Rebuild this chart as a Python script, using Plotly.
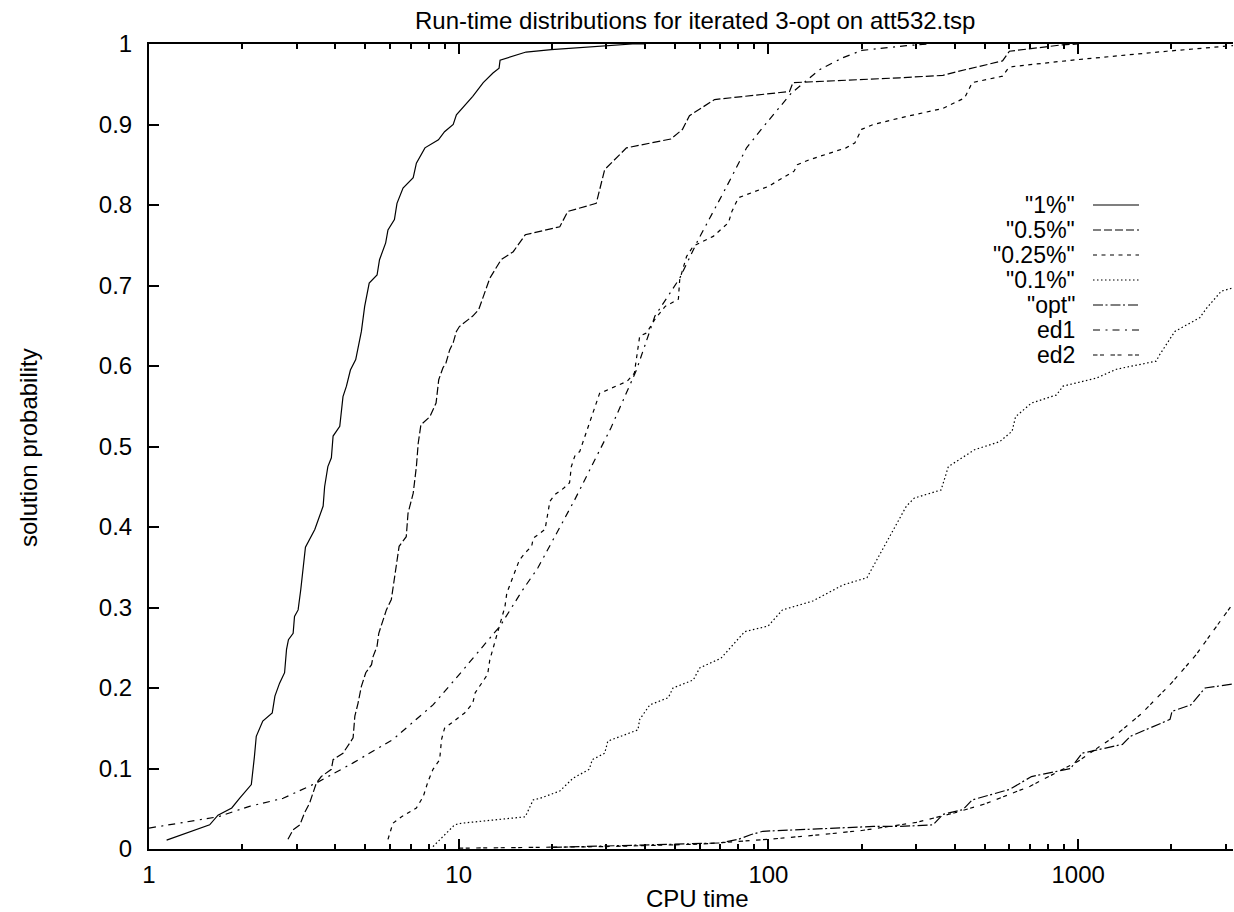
import plotly.graph_objects as go

# ---------------- data ----------------
p1_x = [1.14, 1.57, 1.67, 1.85, 1.96, 2.14, 2.19, 2.22, 2.33, 2.50, 2.55, 2.64, 2.74, 2.78, 2.82,
        2.92, 2.95, 3.03, 3.09, 3.14, 3.20, 3.43, 3.65, 3.69, 3.78, 3.88, 3.93, 4.13, 4.23, 4.34,
        4.47, 4.65, 4.85, 4.97, 5.14, 5.45, 5.55, 5.81, 5.91, 6.2, 6.32, 6.61, 7.13, 7.3, 7.78,
        8.6, 9.0, 9.6, 9.83, 11.1, 12.0, 12.9, 13.5, 13.6, 16.5, 19.9, 30, 36.4, 40]
p1_y = [0.011, 0.030, 0.042, 0.051, 0.063, 0.080, 0.115, 0.14, 0.159, 0.169, 0.19, 0.206, 0.219, 0.248, 0.26,
        0.268, 0.289, 0.297, 0.322, 0.347, 0.375, 0.397, 0.426, 0.45, 0.475, 0.486, 0.513, 0.525, 0.562, 0.575,
        0.595, 0.608, 0.643, 0.674, 0.703, 0.713, 0.732, 0.753, 0.769, 0.782, 0.802, 0.821, 0.834, 0.852, 0.871,
        0.881, 0.891, 0.90, 0.912, 0.935, 0.952, 0.964, 0.970, 0.980, 0.990, 0.993, 0.998, 1.0, 1.0]

p05_x = [2.81, 2.92, 3.07, 3.18, 3.30, 3.38, 3.47, 3.6, 3.88, 3.93, 4.23, 4.56, 4.62, 4.73, 4.85,
         5.01, 5.23, 5.29, 5.45, 5.52, 5.7, 5.84, 6.06, 6.2, 6.28, 6.42, 6.77, 6.86, 7.13, 7.3,
         7.4, 7.55, 8.07, 8.45, 8.62, 8.9, 9.1, 9.35, 9.6, 9.83, 10.05, 11.1, 11.6, 12.0, 12.6,
         13.7, 15.0, 16.4, 21.2, 22.5, 27.8, 29.6, 34.8, 48.4, 52.8, 55.6, 67, 117, 120, 265,
         366, 410, 570, 600, 810, 890, 1000]
p05_y = [0.012, 0.024, 0.030, 0.045, 0.057, 0.07, 0.082, 0.09, 0.099, 0.111, 0.119, 0.138, 0.165, 0.181, 0.202,
         0.219, 0.229, 0.239, 0.252, 0.268, 0.285, 0.297, 0.31, 0.335, 0.355, 0.376, 0.388, 0.417, 0.442, 0.475,
         0.504, 0.527, 0.537, 0.554, 0.583, 0.598, 0.604, 0.62, 0.629, 0.643, 0.649, 0.662, 0.67, 0.686, 0.709,
         0.732, 0.742, 0.763, 0.773, 0.792, 0.802, 0.844, 0.871, 0.882, 0.894, 0.911, 0.931, 0.941, 0.952, 0.958,
         0.961, 0.966, 0.979, 0.991, 0.997, 0.999, 1.0]

p025_x = [5.91, 6.13, 6.54, 7.3, 7.68, 7.96, 8.26, 8.68, 8.8, 9.0, 10.45, 11.1, 11.3, 12.4, 12.6,
          13.4, 14.1, 14.3, 15.0, 15.7, 16.4, 17.2, 17.4, 18.3, 19.0, 19.7, 20.4, 21.8, 22.8, 23.1,
          23.7, 24.6, 26.2, 28.5, 35, 36.9, 38.4, 40.4, 43, 46.4, 51.2, 51.7, 54.4, 57.2, 66.3,
          74.3, 76.2, 80, 99.8, 108, 121, 124, 135, 178, 190, 200, 218, 265, 366, 430,
          455, 570, 595, 615, 960, 1930, 3162]
p025_y = [0.012, 0.032, 0.04, 0.051, 0.065, 0.084, 0.099, 0.111, 0.136, 0.15, 0.169, 0.181, 0.194, 0.217, 0.235,
          0.272, 0.301, 0.318, 0.339, 0.359, 0.368, 0.376, 0.386, 0.393, 0.397, 0.432, 0.44, 0.448, 0.455, 0.475,
          0.488, 0.494, 0.525, 0.566, 0.581, 0.591, 0.637, 0.641, 0.658, 0.674, 0.683, 0.707, 0.736, 0.749, 0.761,
          0.778, 0.792, 0.809, 0.823, 0.831, 0.842, 0.85, 0.856, 0.871, 0.877, 0.894, 0.90, 0.908, 0.92, 0.933,
          0.952, 0.96, 0.97, 0.972, 0.98, 0.991, 0.998]

p01_x = [8.26, 9.7, 10.2, 16.4, 17.4, 18.3, 21.2, 23.4, 26.4, 27.0, 29.6, 30.3, 32.3, 37.9, 38.4,
         41.4, 47.5, 49.2, 57.2, 60, 70.3, 83.8, 99.8, 111, 139, 174, 208, 240, 279, 296,
         361, 381, 463, 558, 612, 628, 707, 851, 894, 1145, 1329, 1786, 1833, 2053, 2470,
         2600, 2900, 3162]
p01_y = [0.003, 0.030, 0.032, 0.04, 0.061, 0.063, 0.072, 0.088, 0.099, 0.111, 0.119, 0.134, 0.138, 0.148, 0.161,
         0.179, 0.188, 0.20, 0.21, 0.225, 0.237, 0.27, 0.277, 0.297, 0.308, 0.328, 0.337, 0.38, 0.426, 0.436,
         0.446, 0.475, 0.496, 0.506, 0.519, 0.537, 0.554, 0.564, 0.575, 0.585, 0.596, 0.606, 0.614, 0.643, 0.66,
         0.672, 0.693, 0.697]

opt_x = [20, 60, 70, 80, 88, 96, 218, 265, 340, 366, 425, 455, 600, 707, 945,
         1030, 1390, 1475, 1980, 2010, 2310, 2570, 3162]
opt_y = [0.002, 0.0075, 0.0075, 0.012, 0.018, 0.022, 0.028, 0.028, 0.030, 0.043, 0.049, 0.061, 0.074, 0.09, 0.10,
         0.119, 0.13, 0.14, 0.161, 0.171, 0.179, 0.20, 0.205]

ed1_x = [1.0, 1.35, 1.67, 2.11, 2.71, 3.47, 4.56, 6.13, 8.26, 10.05, 13.6, 16.1, 18.0, 23.7, 31.0,
         37.5, 43, 51.7, 59, 73.3, 85, 98.6, 118.6, 146, 174, 200, 279, 330]
ed1_y = [0.026, 0.034, 0.04, 0.053, 0.063, 0.082, 0.107, 0.136, 0.179, 0.217, 0.277, 0.322, 0.349, 0.434, 0.523,
         0.595, 0.662, 0.709, 0.755, 0.823, 0.871, 0.902, 0.939, 0.968, 0.983, 0.992, 0.998, 1.0]

ed2_x = [10, 30, 60, 100, 150, 200, 300, 400, 500, 700, 1000, 1300, 1600, 2000, 2400, 2800, 3162]
ed2_y = [0.001, 0.003, 0.006, 0.012, 0.018, 0.023, 0.033, 0.045, 0.056, 0.078, 0.109, 0.139, 0.168, 0.206,
         0.241, 0.276, 0.305]

series_names = ['"1%"', '"0.5%"', '"0.25%"', '"0.1%"', '"opt"', 'ed1', 'ed2']
series_x = [p1_x, p05_x, p025_x, p01_x, opt_x, ed1_x, ed2_x]
series_y = [p1_y, p05_y, p025_y, p01_y, opt_y, ed1_y, ed2_y]
series_dash = ['solid', '8px,3px', '4px,4.5px', '1.5px,2.5px', '10px,2.5px,2px,3px',
               '7px,5.5px,2px,5px', '4.5px,2.5px,4px,6.5px']

x_tick_vals = [1, 10, 100, 1000]
x_tick_text = ['1', '10', '100', '1000']
x_minor_vals = [m * 10 ** k for k in range(4) for m in range(2, 10) if m * 10 ** k <= 3162]

title_text = 'Run-time distributions for iterated 3-opt on att532.tsp'
x_title = 'CPU time'
y_title = 'solution probability'

# ---------------- layout geometry ----------------
W, H = 1234, 912
L, R, T, B = 149, 1233, 44, 849
FONT = 'Liberation Sans, Arial, Helvetica, sans-serif'


def px(xp):
    return (xp - L) / (R - L)


def py(yp):
    return (B - yp) / (B - T)


fig = go.Figure()
for name, xs, ys, dash in zip(series_names, series_x, series_y, series_dash):
    fig.add_trace(go.Scatter(x=xs, y=ys, mode='lines', name=name, showlegend=False,
                             line=dict(color='black', width=1.2, dash=dash)))

annotations = []
shapes = []
# manual legend (text right-aligned, sample to the right)
for i, (name, dash) in enumerate(zip(series_names, series_dash)):
    yrow = 205 + 25 * i
    annotations.append(dict(x=px(1077), y=py(yrow), xref='paper', yref='paper', text=name,
                            showarrow=False, xanchor='right', yanchor='middle',
                            font=dict(family=FONT, size=23, color='black')))
    shapes.append(dict(type='line', xref='paper', yref='paper', x0=px(1093), x1=px(1139),
                       y0=py(yrow), y1=py(yrow), line=dict(color='black', width=1.2, dash=dash)))

annotations.append(dict(x=px(695), y=py(20), xref='paper', yref='paper', text=title_text,
                        showarrow=False, xanchor='center', yanchor='middle',
                        font=dict(family=FONT, size=24, color='black')))
annotations.append(dict(x=px(697), y=py(899), xref='paper', yref='paper', text=x_title,
                        showarrow=False, xanchor='center', yanchor='middle',
                        font=dict(family=FONT, size=24, color='black')))
annotations.append(dict(x=px(29), y=py(448), xref='paper', yref='paper', text=y_title,
                        showarrow=False, xanchor='center', yanchor='middle', textangle=-90,
                        font=dict(family=FONT, size=24, color='black')))

fig.update_layout(
    width=W, height=H,
    margin=dict(l=L, r=W - R, t=T, b=H - B, pad=0),
    paper_bgcolor='white', plot_bgcolor='white',
    font=dict(family=FONT, size=24, color='black'),
    annotations=annotations, shapes=shapes,
    showlegend=False,
)
fig.update_xaxes(type='log', range=[0, 3.5], tickmode='array', tickvals=x_tick_vals, ticktext=x_tick_text,
                 ticks='inside', ticklen=10, tickwidth=1.5, tickcolor='black',
                 minor=dict(tickvals=x_minor_vals, ticks='inside', ticklen=5, tickwidth=1.5,
                            tickcolor='black', showgrid=False),
                 showline=True, linewidth=2, linecolor='black', mirror='ticks',
                 showgrid=False, zeroline=False, ticklabelstandoff=3,
                 tickfont=dict(family=FONT, size=24, color='black'))
fig.update_yaxes(range=[0, 1], dtick=0.1, tick0=0,
                 ticks='inside', ticklen=10, tickwidth=1.5, tickcolor='black',
                 showline=True, linewidth=2, linecolor='black', mirror=False,
                 showgrid=False, zeroline=False, ticklabelstandoff=10,
                 tickfont=dict(family=FONT, size=24, color='black'))

fig.write_html('out.html')
